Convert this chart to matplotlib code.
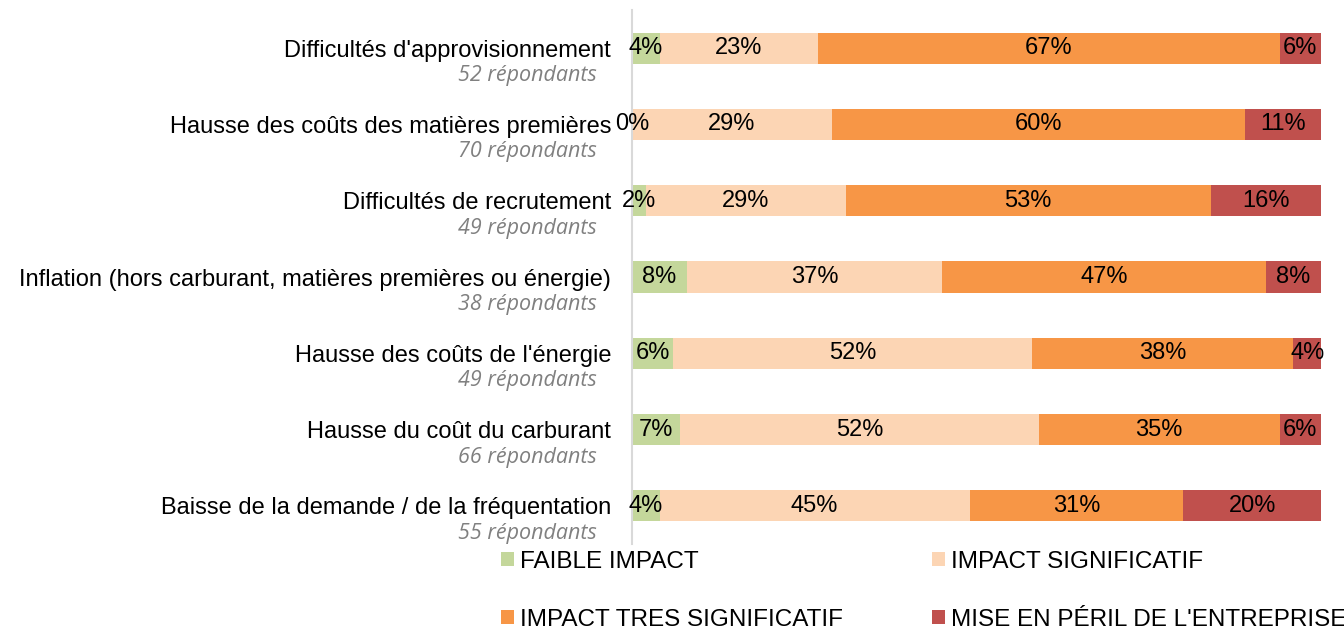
import matplotlib
matplotlib.use("Agg")
import matplotlib.pyplot as plt
import matplotlib.transforms as mtransforms
from matplotlib.patches import Patch

categories = [
    "Difficultés d'approvisionnement",
    "Hausse des coûts des matières premières",
    "Difficultés de recrutement",
    "Inflation (hors carburant, matières premières ou énergie)",
    "Hausse des coûts de l'énergie",
    "Hausse du coût du carburant",
    "Baisse de la demande / de la fréquentation",
]
respondents = [52, 70, 49, 38, 49, 66, 55]
series_names = ["FAIBLE IMPACT", "IMPACT SIGNIFICATIF",
                "IMPACT TRES SIGNIFICATIF", "MISE EN PÉRIL DE L'ENTREPRISE"]
faible = [4, 0, 2, 8, 6, 7, 4]
significatif = [23, 29, 29, 37, 52, 52, 45]
tres_significatif = [67, 60, 53, 47, 38, 35, 31]
peril = [6, 11, 16, 8, 4, 6, 20]
colors = ["#C4D79B", "#FCD5B4", "#F79646", "#C0504D"]

plt.rcParams['font.family'] = ['Liberation Sans', 'DejaVu Sans']

fig = plt.figure(figsize=(13.44, 6.32), dpi=100)
ax = fig.add_axes([632/1344, 1-544/632, 689/1344, 534/632])

series = [faible, significatif, tres_significatif, peril]
y = list(range(len(categories)))
left = [0]*len(categories)
for vals, col, name in zip(series, colors, series_names):
    bars = ax.barh(y, vals, left=left, height=0.41, color=col, label=name)
    ax.bar_label(bars, labels=[f"{v}%" for v in vals], label_type='center',
                 fontsize=17, color='black')
    left = [l + v for l, v in zip(left, vals)]

ax.set_xlim(0, 100)
ax.set_ylim(len(categories)-0.5, -0.5)
ax.set_yticks(y)
ax.set_yticklabels(categories, fontsize=17)
ax.tick_params(axis='y', length=0, pad=15)
ax.xaxis.set_visible(False)
for s in ['top', 'right', 'bottom']:
    ax.spines[s].set_visible(False)
ax.spines['left'].set_color('#D9D9D9')
ax.spines['left'].set_linewidth(1.5)

trans = mtransforms.blended_transform_factory(ax.transAxes, ax.transData)
for i, n in enumerate(respondents):
    ax.text(-0.051, i + 0.36, f"{n} répondants", transform=trans,
            ha='right', va='center', fontsize=15.5, color='#808080',
            style='italic', family=['Open Sans', 'DejaVu Sans'])

# legend: one entry per position, row-major like the reference
legend_pos = [(501, 562), (932, 562), (501, 620), (932, 620)]
for c, n, (px, py) in zip(colors, series_names, legend_pos):
    leg = fig.legend(handles=[Patch(facecolor=c, label=n)], loc='center left',
                     bbox_to_anchor=(px/1344, 1-py/632), frameon=False,
                     fontsize=17.5, handlelength=0.53, handleheight=0.5,
                     handletextpad=0.25, borderpad=0, borderaxespad=0)

fig.savefig("out.png", dpi=100)
